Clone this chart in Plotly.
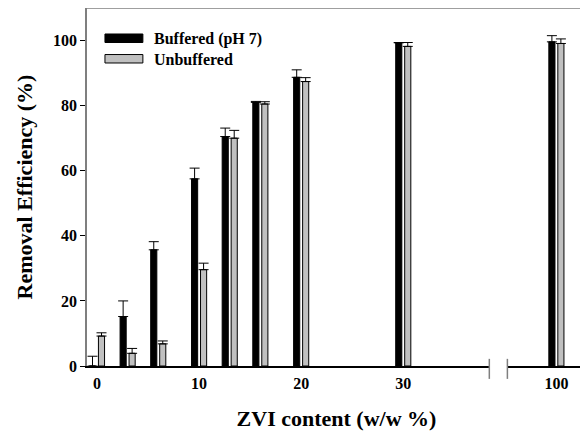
import plotly.graph_objects as go

# ---- data ----
zvi_content = [0, 3, 6, 10, 13, 16, 20, 30, 100]
buffered = [0.0, 15.2, 35.7, 57.5, 70.5, 81.0, 88.7, 99.3, 99.6]
buffered_err = [3.0, 4.8, 2.5, 3.3, 2.6, 0.3, 2.3, 0.1, 1.9]
unbuffered = [9.2, 3.9, 6.8, 29.6, 70.0, 80.5, 87.4, 98.2, 99.1]
unbuffered_err = [1.0, 1.5, 0.9, 2.0, 2.4, 0.7, 1.2, 1.2, 1.4]
tick_values = [0, 10, 20, 30, 100]
tick_labels = ["0", "10", "20", "30", "100"]
series_names = ["Buffered (pH 7)", "Unbuffered"]
series_colors = ["black", "#c0c0c0"]


def broken_axis(v):
    # axis is broken between 30 and 100
    return v if v <= 35 else v - 55


xpos = [broken_axis(v) for v in zvi_content]
FONT = "Liberation Serif"
FRAME = "#7f7f7f"

fig = go.Figure()
for name, vals, errs, col, off in [
    (series_names[0], buffered, buffered_err, series_colors[0], -0.74),
    (series_names[1], unbuffered, unbuffered_err, series_colors[1], 0.14),
]:
    fig.add_trace(go.Bar(
        x=xpos, y=vals, name=name, offset=off, width=0.6,
        marker=dict(color=col, line=dict(color="black", width=1)),
        error_y=dict(type="data", symmetric=False, array=errs,
                     arrayminus=[0] * len(errs), color="black",
                     thickness=1, width=5),
        showlegend=False,
    ))

# legend drawn as wide swatches with real text
legend_rows = [(0.9036, 0.9274, 0.9148), (0.8464, 0.870, 0.8575)]
for (y0, y1, yt), name, col in zip(legend_rows, series_names, series_colors):
    fig.add_shape(type="rect", xref="paper", yref="paper", x0=0.036, x1=0.112,
                  y0=y0, y1=y1, fillcolor=col,
                  line=dict(color="black", width=1), layer="above")
    fig.add_annotation(x=0.130, y=yt, xref="paper", yref="paper",
                       xanchor="left", yanchor="middle", showarrow=False,
                       text="<b>%s</b>" % name,
                       font=dict(family=FONT, size=16, color="black"))

# axis break marks
fig.add_shape(type="rect", xref="x", yref="paper", x0=38.43, x1=40.2,
              y0=-0.012, y1=0.012, fillcolor="white", line=dict(width=0),
              layer="above")
for xb in (38.43, 40.2):
    fig.add_shape(type="line", xref="x", yref="paper", x0=xb, x1=xb,
                  y0=-0.036, y1=0.02, line=dict(color=FRAME, width=1.5),
                  layer="above")
# top frame line
fig.add_shape(type="line", xref="paper", yref="paper", x0=0, x1=1, y0=1, y1=1,
              line=dict(color=FRAME, width=1.5), layer="above")

fig.update_layout(
    width=580, height=425,
    margin=dict(l=79, r=2, t=0, b=67),
    plot_bgcolor="white", paper_bgcolor="white",
    barmode="overlay",
    font=dict(family=FONT, color="black", size=16),
    showlegend=False,
    xaxis=dict(
        range=[-0.98, 47.9], tickvals=[broken_axis(v) for v in tick_values],
        ticktext=["<b>%s</b>" % t for t in tick_labels],
        ticks="", ticklabelstandoff=2, showgrid=False, zeroline=False,
        showline=True, linecolor="black", linewidth=1.5,
        tickfont=dict(family=FONT, size=16),
        title=dict(text="<b>ZVI content (w/w %)</b>", standoff=20,
                   font=dict(family=FONT, size=22)),
    ),
    yaxis=dict(
        range=[0, 110], tickvals=[0, 20, 40, 60, 80, 100],
        ticktext=["<b>%d</b>" % v for v in [0, 20, 40, 60, 80, 100]],
        ticks="outside", ticklen=5, tickcolor="black", tickwidth=1,
        showgrid=False, zeroline=False, showline=True,
        linecolor=FRAME, linewidth=1.5, mirror=True,
        tickfont=dict(family=FONT, size=16),
        title=dict(text="<b>Removal Efficiency (%)</b>", standoff=14,
                   font=dict(family=FONT, size=22)),
    ),
)

fig.write_html("out.html")
